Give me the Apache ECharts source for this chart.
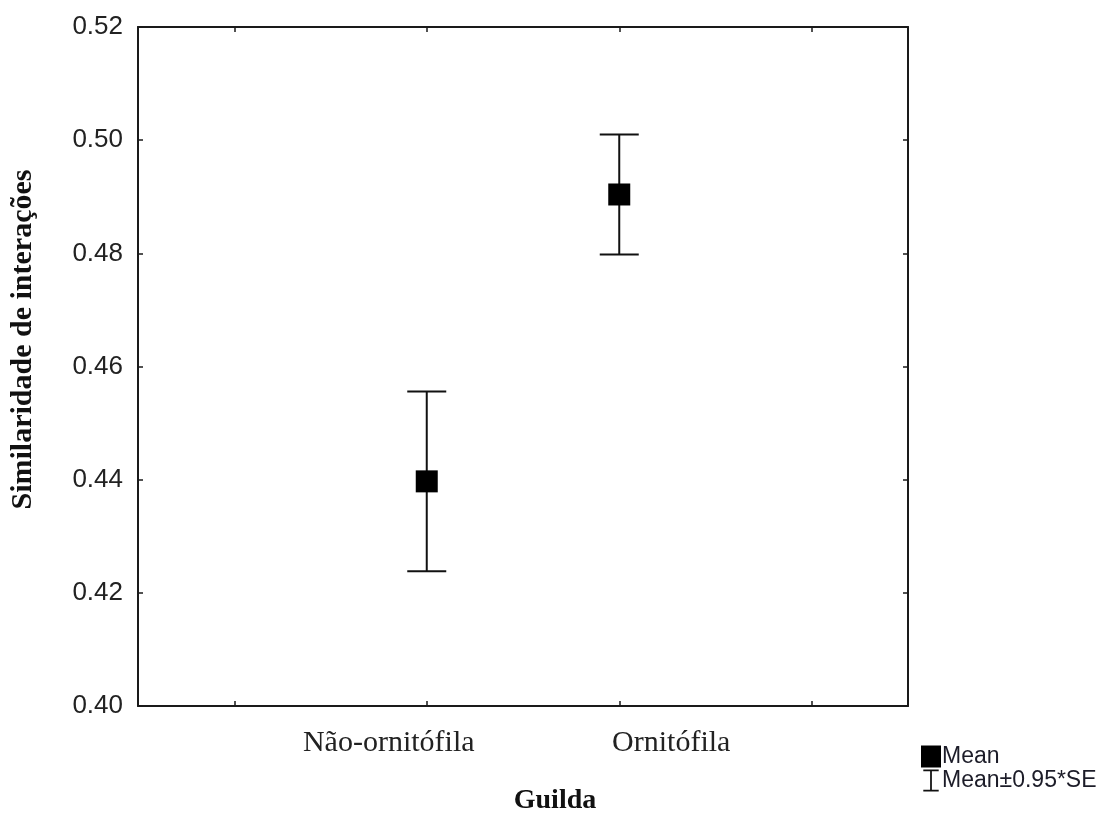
<!DOCTYPE html>
<html>
<head>
<meta charset="utf-8">
<script src="https://cdn.jsdelivr.net/npm/echarts@6/dist/echarts.min.js"></script>
<style>
html,body{margin:0;padding:0;background:#fff;}
#chart{width:1113px;height:823px;}
</style>
</head>
<body>
<div id="chart"></div>
<script>
const categories = ['Não-ornitófila', 'Ornitófila'];
const categoryPositions = [1, 2];
const xTickValues = [0, 1, 2, 3];
const means = [0.4397, 0.4904];
const upper = [0.4556, 0.5010];
const lower = [0.4238, 0.4798];
const yMin = 0.40, yMax = 0.52, yInterval = 0.02;
const meanName = 'Mean';
const errName = 'Mean±0.95*SE';

const chart = echarts.init(document.getElementById('chart'), null, {renderer: 'canvas'});

const scatterData = categories.map((c, i) => [categoryPositions[i], means[i]]);
const errData = categories.map((c, i) => [categoryPositions[i], lower[i], upper[i]]);

const axisLineStyle = {color: '#1a1a1a', width: 2};
const tickStyle = {color: '#1a1a1a', width: 1.5};

const option = {
  animation: false,
  backgroundColor: '#fff',
  grid: {left: 137, right: 205, top: 27, bottom: 117},
  legend: {
    orient: 'vertical',
    left: 916,
    top: 740,
    itemWidth: 20,
    itemHeight: 22,
    itemGap: 1,
    selectedMode: false,
    textStyle: {fontFamily: 'Liberation Sans, Arial, sans-serif', fontSize: 23, color: '#1c1c28', padding: [0, 0, 0, -4]},
    data: [
      {name: meanName, icon: 'rect', itemStyle: {color: '#000', opacity: 1}},
      {name: errName, icon: 'path://M0,0 H14 V1.6 H7.8 V18.4 H14 V20 H0 V18.4 H6.2 V1.6 H0 Z', itemStyle: {color: '#111', opacity: 1}}
    ]
  },
  xAxis: [
    {
      type: 'value',
      position: 'bottom',
      min: -0.5,
      max: 3.5,
      name: 'Guilda',
      nameLocation: 'middle',
      nameGap: 81,
      nameTextStyle: {fontFamily: 'Liberation Serif, Times New Roman, serif', fontWeight: 'bold', fontSize: 28, color: '#111', padding: [0, 0, 0, 64]},
      axisLine: {show: true, onZero: false, lineStyle: axisLineStyle},
      axisTick: {show: true, inside: true, length: 5, lineStyle: tickStyle, customValues: xTickValues},
      axisLabel: {
        show: true,
        margin: 22,
        customValues: categoryPositions,
        formatter: function (v) {
          const i = categoryPositions.indexOf(Math.round(v));
          if (i < 0) return '';
          return '{c' + i + '|' + categories[i] + '}';
        },
        rich: {
          c0: {fontFamily: 'Liberation Serif, Times New Roman, serif', fontSize: 30, color: '#222', padding: [0, 76, 0, 0]},
          c1: {fontFamily: 'Liberation Serif, Times New Roman, serif', fontSize: 30, color: '#222', padding: [0, 0, 0, 104]}
        }
      },
      splitLine: {show: false}
    },
    {
      type: 'value',
      position: 'top',
      min: -0.5,
      max: 3.5,
      axisLine: {show: true, onZero: false, lineStyle: axisLineStyle},
      axisTick: {show: true, inside: true, length: 5, lineStyle: tickStyle, customValues: xTickValues},
      axisLabel: {show: false},
      splitLine: {show: false}
    }
  ],
  yAxis: [
    {
      type: 'value',
      position: 'left',
      min: yMin,
      max: yMax,
      interval: yInterval,
      name: 'Similaridade de interações',
      nameLocation: 'middle',
      nameRotate: 90,
      nameGap: 100,
      nameTextStyle: {fontFamily: 'Liberation Serif, Times New Roman, serif', fontWeight: 'bold', fontSize: 30, color: '#111', padding: [0, 0, 0, 54]},
      axisLine: {show: true, onZero: false, lineStyle: axisLineStyle},
      axisTick: {show: true, inside: true, length: 5, lineStyle: tickStyle},
      axisLabel: {
        margin: 15,
        fontFamily: 'Liberation Sans, Arial, sans-serif',
        fontSize: 26,
        color: '#222',
        formatter: v => v.toFixed(2)
      },
      splitLine: {show: false}
    },
    {
      type: 'value',
      position: 'right',
      min: yMin,
      max: yMax,
      interval: yInterval,
      axisLine: {show: true, onZero: false, lineStyle: axisLineStyle},
      axisTick: {show: true, inside: true, length: 5, lineStyle: tickStyle},
      axisLabel: {show: false},
      splitLine: {show: false}
    }
  ],
  series: [
    {
      name: errName,
      type: 'custom',
      xAxisIndex: 0,
      yAxisIndex: 0,
      itemStyle: {color: '#111', opacity: 1},
      data: errData,
      encode: {x: 0, y: [1, 2]},
      z: 2,
      renderItem: function (params, api) {
        const x = api.value(0);
        const pLo = api.coord([x, api.value(1)]);
        const pHi = api.coord([x, api.value(2)]);
        const hw = 19.5;
        const st = {stroke: '#111', lineWidth: 2};
        return {
          type: 'group',
          children: [
            {type: 'line', shape: {x1: pHi[0], y1: pHi[1], x2: pLo[0], y2: pLo[1]}, style: st},
            {type: 'line', shape: {x1: pHi[0] - hw, y1: pHi[1], x2: pHi[0] + hw, y2: pHi[1]}, style: st},
            {type: 'line', shape: {x1: pLo[0] - hw, y1: pLo[1], x2: pLo[0] + hw, y2: pLo[1]}, style: st}
          ]
        };
      }
    },
    {
      name: meanName,
      type: 'scatter',
      xAxisIndex: 0,
      yAxisIndex: 0,
      symbol: 'rect',
      symbolSize: 22,
      itemStyle: {color: '#000', opacity: 1},
      data: scatterData,
      z: 5
    }
  ]
};

chart.setOption(option);
</script>
</body>
</html>
